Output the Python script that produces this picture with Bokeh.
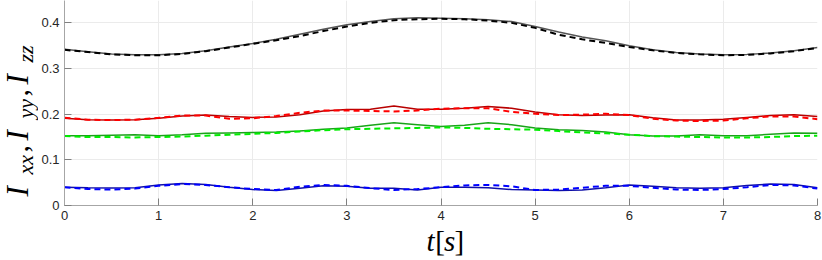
from math import pi
from bokeh.plotting import figure
from bokeh.layouts import row, column
from bokeh.models import Range1d, FixedTicker
from bokeh.core.properties import value
from bokeh.embed import file_html
from bokeh.resources import INLINE

# ---------------- data ----------------
t = [0, 0.25, 0.5, 0.75, 1, 1.25, 1.5, 1.75, 2, 2.25, 2.5, 2.75, 3, 3.25, 3.5, 3.75,
     4, 4.25, 4.5, 4.75, 5, 5.25, 5.5, 5.75, 6, 6.25, 6.5, 6.75, 7, 7.25, 7.5, 7.75, 8]

Izz_solid = [0.342, 0.337, 0.332, 0.330, 0.330, 0.333, 0.339, 0.347, 0.355, 0.364, 0.375,
             0.386, 0.396, 0.403, 0.409, 0.411, 0.410, 0.409, 0.407, 0.403, 0.392, 0.380,
             0.369, 0.361, 0.350, 0.341, 0.335, 0.332, 0.330, 0.331, 0.334, 0.339, 0.346]
Izz_dashed = [0.341, 0.336, 0.331, 0.329, 0.329, 0.332, 0.338, 0.346, 0.354, 0.362, 0.371,
              0.382, 0.392, 0.400, 0.406, 0.408, 0.409, 0.408, 0.405, 0.400, 0.389, 0.374,
              0.364, 0.356, 0.347, 0.340, 0.334, 0.331, 0.329, 0.330, 0.333, 0.338, 0.345]
Iyy_solid = [0.191, 0.188, 0.187, 0.188, 0.191, 0.196, 0.198, 0.195, 0.193, 0.194, 0.199,
             0.207, 0.210, 0.211, 0.218, 0.211, 0.211, 0.213, 0.217, 0.213, 0.205, 0.199,
             0.197, 0.198, 0.199, 0.192, 0.187, 0.187, 0.189, 0.193, 0.197, 0.199, 0.195]
Iyy_dashed = [0.192, 0.188, 0.187, 0.188, 0.192, 0.197, 0.197, 0.190, 0.191, 0.196, 0.203,
              0.208, 0.208, 0.207, 0.206, 0.208, 0.212, 0.213, 0.213, 0.205, 0.201, 0.198,
              0.199, 0.201, 0.198, 0.190, 0.186, 0.185, 0.186, 0.191, 0.195, 0.195, 0.189]
Ixx_solid = [0.153, 0.153, 0.154, 0.155, 0.153, 0.155, 0.158, 0.159, 0.160, 0.161, 0.163,
             0.167, 0.170, 0.176, 0.181, 0.177, 0.173, 0.176, 0.181, 0.177, 0.170, 0.166,
             0.164, 0.161, 0.155, 0.152, 0.152, 0.155, 0.153, 0.153, 0.156, 0.159, 0.158]
Ixx_dashed = [0.152, 0.150, 0.150, 0.149, 0.150, 0.151, 0.153, 0.155, 0.157, 0.159, 0.162,
              0.165, 0.167, 0.168, 0.169, 0.170, 0.171, 0.170, 0.168, 0.167, 0.166, 0.163,
              0.160, 0.158, 0.155, 0.152, 0.151, 0.150, 0.149, 0.149, 0.150, 0.152, 0.153]
Ilow_solid = [0.040, 0.039, 0.0385, 0.039, 0.045, 0.048, 0.046, 0.040, 0.035, 0.033, 0.038,
              0.043, 0.042, 0.038, 0.038, 0.034, 0.040, 0.040, 0.039, 0.035, 0.034, 0.033,
              0.034, 0.039, 0.045, 0.042, 0.039, 0.038, 0.039, 0.044, 0.047, 0.046, 0.039]
Ilow_dashed = [0.040, 0.036, 0.035, 0.037, 0.043, 0.047, 0.045, 0.040, 0.036, 0.034, 0.041,
               0.045, 0.043, 0.038, 0.034, 0.036, 0.040, 0.044, 0.045, 0.042, 0.034, 0.035,
               0.039, 0.043, 0.043, 0.039, 0.035, 0.034, 0.036, 0.040, 0.045, 0.044, 0.037]

x_ticks = [0, 1, 2, 3, 4, 5, 6, 7, 8]
x_tick_labels = ["0", "1", "2", "3", "4", "5", "6", "7", "8"]
y_ticks = [0, 0.1, 0.2, 0.3, 0.4]
y_tick_labels = ["0", "0.1", "0.2", "0.3", "0.4"]

# ---------------- layout sizes ----------------
TOTAL_W, TOTAL_H = 822, 260
YL_W = 38                     # strip holding the y-axis label
MAIN_W = TOTAL_W - YL_W
MAIN_H = 230
XL_H = TOTAL_H - MAIN_H       # strip holding the x-axis label
BL, BR, BT, BB = 61 - YL_W, 5, 0, 25

# ---------------- main figure ----------------
p = figure(width=MAIN_W, height=MAIN_H, output_backend="svg", toolbar_location=None,
           x_range=Range1d(0, 8), y_range=Range1d(0, 0.449),
           min_border_left=BL, min_border_right=BR, min_border_top=BT, min_border_bottom=BB)
p.outline_line_color = None
p.background_fill_color = "white"
p.border_fill_color = "white"

for ax in (p.xaxis[0], p.yaxis[0]):
    ax.axis_line_color = "#a6a6a6"
    ax.axis_line_width = 1
    ax.major_tick_line_color = "#808080"
    ax.major_tick_in = 7
    ax.major_tick_out = 0
    ax.minor_tick_line_color = None
    ax.major_label_text_font = "Liberation Sans"
    ax.major_label_text_font_size = "13px"
    ax.major_label_text_color = "#262626"

p.xaxis.ticker = FixedTicker(ticks=x_ticks)
p.xaxis.major_label_overrides = dict(zip(x_ticks, x_tick_labels))
p.xaxis.major_label_standoff = 5
p.yaxis.ticker = FixedTicker(ticks=y_ticks)
p.yaxis.major_label_overrides = dict(zip(y_ticks, y_tick_labels))
p.yaxis.major_label_standoff = 5

p.xgrid.ticker = FixedTicker(ticks=x_ticks)
p.ygrid.ticker = FixedTicker(ticks=y_ticks)
for g in (p.xgrid[0], p.ygrid[0]):
    g.grid_line_color = "#ebebeb"
    g.grid_line_width = 1

series = [
    (Izz_solid, "#555555", "solid", 1.5),
    (Iyy_solid, "#b80000", "solid", 1.5),
    (Ixx_solid, "#1aa31a", "solid", 1.5),
    (Ilow_solid, "#1010a8", "solid", 1.5),
    (Izz_dashed, "#000000", "6 4", 2.0),
    (Iyy_dashed, "#ff0000", "6 4", 2.0),
    (Ixx_dashed, "#00ee00", "6 4", 2.0),
    (Ilow_dashed, "#0000ff", "6 4", 2.0),
]
for vals, col, dash, lw in series:
    p.line(t, vals, line_color=col, line_dash=dash, line_width=lw)

# ---------------- helper figures for the math-style axis labels ----------------
def blank(w, h):
    f = figure(width=w, height=h, output_backend="svg", toolbar_location=None,
               x_range=Range1d(0, w), y_range=Range1d(0, h),
               x_axis_type=None, y_axis_type=None,
               min_border=0, min_border_left=0, min_border_right=0,
               min_border_top=0, min_border_bottom=0)
    f.outline_line_color = None
    f.background_fill_color = "white"
    f.border_fill_color = "white"
    f.grid.visible = False
    return f

# y label: I_xx, I_yy, I_zz (rotated, reading upward)
yl = blank(YL_W, TOTAL_H)
ylabel_pieces = [
    ("I", "31px", 196, 17, "italic"), ("xx", "22px", 174, 25, "italic"), (",", "30px", 152, 18, "normal"),
    ("I", "31px", 140, 17, "italic"), ("yy", "22px", 118, 25, "italic"), (",", "30px", 96, 18, "normal"),
    ("I", "31px", 84, 17, "italic"), ("zz", "22px", 62, 25, "italic"),
]
for txt, size, py, px, style in ylabel_pieces:
    yl.text(x=[px], y=[TOTAL_H - py], text=[txt], angle=pi / 2,
            text_font=value("Liberation Serif"), text_font_style=style,
            text_font_size=value(size), text_color="black",
            text_align="left", text_baseline="alphabetic")

# x label: t[s]
xl = blank(MAIN_W, XL_H)
xlabel_pieces = [("t", 415, "italic"), ("[", 424, "normal"), ("s", 433, "italic"), ("]", 444, "normal")]
for txt, px, style in xlabel_pieces:
    xl.text(x=[px - YL_W], y=[TOTAL_H - 240], text=[txt],
            text_font=value("Liberation Serif"), text_font_style=style,
            text_font_size=value("29px"), text_color="black",
            text_align="left", text_baseline="alphabetic")

layout = row(yl, column(p, xl, spacing=0), spacing=0)
open("out.html", "w").write(file_html(layout, INLINE))
